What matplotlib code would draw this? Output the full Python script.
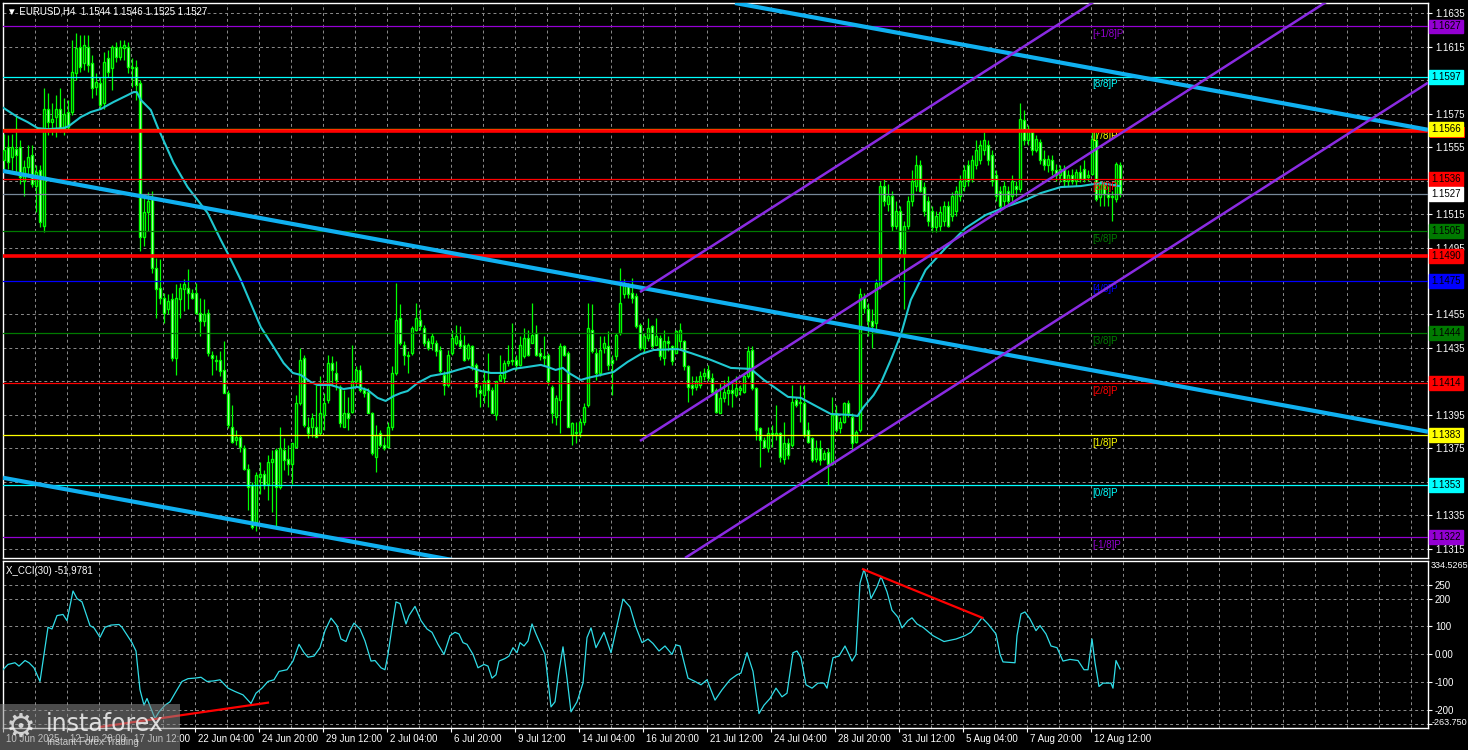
import numpy as np
import matplotlib.pyplot as plt
import matplotlib.transforms as mtransforms
from matplotlib.patches import Rectangle

plt.rcParams['font.family'] = ['Liberation Sans', 'DejaVu Sans']

# EURUSD H4 candles, in pips above 1.1300 (one value per bar, 280 bars)
opens = [
    247, 255, 249, 254, 255, 235, 243, 250, 232, 241,
    208, 278, 270, 273, 278, 266, 276, 276, 299, 315,
    305, 315, 305, 291, 293, 281, 308, 302, 315, 309,
    314, 315, 303, 303, 293, 201, 216, 225, 183, 171,
    165, 158, 164, 129, 164, 170, 171, 168, 168, 156,
    151, 156, 131, 128, 128, 122, 108, 88, 80, 82,
    75, 63, 53, 31, 58, 60, 54, 67, 74, 52,
    74, 69, 66, 76, 102, 129, 88, 88, 88, 84,
    95, 104, 126, 120, 112, 88, 96, 97, 115, 122,
    110, 109, 96, 70, 84, 77, 76, 88, 120, 153,
    137, 131, 132, 146, 152, 147, 139, 138, 138, 134,
    119, 113, 132, 138, 140, 137, 129, 136, 125, 110,
    107, 116, 110, 95, 116, 117, 126, 127, 128, 125,
    130, 141, 138, 144, 132, 130, 131, 112, 94, 104,
    136, 132, 83, 84, 85, 91, 101, 146, 132, 120,
    135, 136, 128, 130, 144, 167, 173, 168, 166, 149,
    135, 141, 148, 137, 141, 129, 139, 136, 132, 139,
    139, 124, 113, 112, 113, 118, 122, 117, 110, 96,
    105, 108, 110, 107, 110, 109, 118, 134, 111, 87,
    80, 75, 84, 83, 84, 69, 78, 77, 104, 102,
    102, 86, 81, 69, 75, 69, 73, 66, 96, 87,
    91, 102, 94, 79, 86, 165, 158, 151, 150, 172,
    232, 221, 226, 208, 217, 191, 208, 223, 232, 244,
    231, 223, 217, 207, 208, 211, 220, 214, 217, 226,
    232, 244, 236, 244, 247, 253, 256, 250, 238, 229,
    223, 229, 226, 232, 230, 271, 259, 264, 253, 258,
    248, 244, 247, 241, 238, 242, 235, 238, 235, 240,
    242, 237, 239, 259, 225, 233, 227, 225, 224, 244,
]
highs = [
    263, 262, 263, 274, 259, 247, 256, 256, 244, 244,
    290, 287, 281, 286, 290, 284, 283, 319, 323, 322,
    322, 322, 310, 299, 297, 312, 313, 316, 318, 319,
    319, 318, 308, 307, 295, 226, 228, 229, 189, 188,
    168, 167, 168, 173, 174, 176, 182, 170, 174, 165,
    164, 158, 133, 131, 133, 139, 110, 101, 86, 83,
    77, 66, 55, 61, 67, 62, 71, 74, 75, 88,
    81, 77, 78, 107, 135, 131, 94, 96, 113, 118,
    108, 131, 130, 127, 113, 110, 106, 137, 124, 125,
    112, 111, 97, 89, 86, 82, 91, 124, 174, 161,
    139, 133, 148, 162, 158, 149, 141, 144, 140, 136,
    121, 134, 146, 149, 148, 143, 138, 137, 126, 113,
    122, 132, 112, 115, 131, 128, 137, 150, 131, 142,
    147, 146, 162, 149, 135, 142, 132, 113, 107, 138,
    137, 133, 91, 91, 93, 102, 162, 161, 135, 142,
    142, 145, 131, 144, 183, 176, 174, 177, 168, 150,
    144, 153, 149, 153, 143, 146, 142, 137, 146, 150,
    140, 125, 118, 118, 121, 123, 125, 120, 111, 114,
    116, 118, 115, 118, 113, 120, 136, 136, 112, 88,
    82, 88, 89, 101, 85, 91, 81, 113, 106, 113,
    113, 91, 82, 80, 80, 74, 75, 106, 101, 94,
    103, 104, 96, 86, 171, 168, 162, 158, 176, 235,
    236, 233, 229, 223, 220, 211, 226, 241, 250, 247,
    234, 226, 220, 217, 220, 223, 223, 228, 232, 238,
    244, 247, 250, 259, 259, 264, 259, 253, 241, 232,
    235, 232, 238, 235, 281, 277, 268, 266, 262, 260,
    253, 250, 250, 245, 244, 244, 241, 242, 242, 244,
    247, 241, 264, 264, 235, 235, 232, 229, 246, 246,
]
lows = [
    241, 242, 241, 239, 233, 226, 237, 231, 216, 207,
    204, 262, 262, 261, 264, 262, 265, 274, 295, 300,
    301, 300, 284, 286, 278, 278, 297, 289, 306, 307,
    307, 299, 291, 283, 193, 196, 205, 180, 153, 161,
    150, 155, 127, 119, 153, 157, 158, 164, 155, 142,
    148, 130, 119, 122, 118, 108, 87, 78, 77, 73,
    62, 38, 27, 26, 48, 51, 44, 37, 28, 51,
    62, 59, 54, 75, 101, 88, 81, 82, 82, 83,
    86, 102, 113, 110, 88, 88, 86, 96, 112, 109,
    106, 96, 71, 61, 76, 74, 75, 86, 119, 137,
    125, 120, 131, 145, 146, 136, 134, 134, 130, 120,
    107, 112, 131, 137, 135, 127, 128, 122, 106, 100,
    102, 100, 96, 92, 115, 114, 124, 125, 122, 124,
    129, 130, 138, 130, 128, 124, 113, 90, 89, 84,
    130, 88, 77, 78, 82, 89, 100, 132, 116, 118,
    132, 122, 107, 128, 143, 165, 165, 162, 147, 134,
    132, 139, 135, 137, 128, 125, 133, 125, 132, 135,
    122, 103, 107, 110, 111, 116, 115, 107, 96, 96,
    103, 101, 100, 106, 107, 108, 117, 110, 80, 64,
    75, 73, 76, 80, 67, 66, 69, 76, 100, 91,
    82, 78, 67, 67, 65, 68, 53, 65, 85, 84,
    90, 94, 74, 78, 85, 156, 142, 135, 146, 170,
    220, 217, 205, 206, 189, 158, 206, 220, 229, 228,
    214, 208, 204, 204, 205, 208, 207, 211, 214, 223,
    229, 232, 234, 242, 245, 250, 244, 232, 223, 216,
    220, 220, 223, 226, 228, 256, 256, 250, 252, 245,
    241, 240, 238, 235, 234, 232, 232, 233, 232, 234,
    234, 235, 238, 223, 220, 220, 220, 211, 222, 225,
]
closes = [
    253, 246, 255, 250, 237, 243, 249, 233, 240, 210,
    278, 270, 272, 278, 266, 275, 267, 300, 314, 303,
    316, 304, 290, 294, 280, 306, 300, 315, 309, 315,
    316, 303, 302, 292, 201, 216, 223, 183, 170, 165,
    156, 163, 129, 165, 171, 173, 168, 165, 156, 151,
    155, 132, 129, 127, 121, 108, 89, 79, 82, 76,
    63, 52, 28, 59, 60, 53, 67, 69, 52, 75,
    68, 66, 78, 102, 128, 89, 84, 93, 82, 96,
    102, 126, 122, 116, 90, 96, 93, 115, 122, 110,
    108, 96, 72, 83, 77, 75, 88, 120, 152, 138,
    131, 130, 147, 153, 148, 138, 135, 142, 133, 121,
    113, 131, 141, 142, 136, 128, 137, 124, 112, 108,
    115, 110, 96, 115, 119, 126, 127, 128, 125, 137,
    141, 131, 143, 131, 130, 129, 115, 96, 105, 136,
    131, 88, 90, 85, 91, 100, 147, 133, 120, 134,
    138, 125, 126, 143, 162, 174, 167, 165, 148, 135,
    142, 147, 136, 142, 130, 139, 138, 127, 145, 146,
    124, 112, 111, 115, 118, 120, 117, 109, 97, 105,
    109, 110, 108, 111, 111, 118, 133, 111, 86, 80,
    76, 84, 83, 84, 70, 78, 71, 103, 101, 103,
    83, 79, 68, 75, 68, 72, 66, 95, 86, 91,
    102, 96, 78, 85, 167, 159, 151, 148, 174, 232,
    223, 226, 208, 217, 194, 208, 223, 235, 244, 229,
    217, 211, 207, 214, 216, 220, 208, 226, 229, 235,
    241, 235, 247, 253, 256, 259, 247, 235, 226, 220,
    232, 223, 235, 230, 272, 259, 266, 253, 260, 247,
    244, 248, 241, 238, 242, 235, 238, 235, 240, 236,
    236, 238, 260, 224, 233, 227, 225, 226, 245, 227,
]

# moving average on the price panel: (bar, pips above 1.1300)
ma_points = [
    (-0.1, 278.3), (3.4, 272.9), (5.9, 269.9), (8.4, 266.3), (10.9, 265.7),
    (14.9, 266.3), (16.2, 267.5), (19.2, 272.9), (21.7, 275.9), (24.2, 277.7),
    (27.4, 281.9), (30.9, 286.0), (32.4, 287.8), (33.2, 287.8), (34.2, 283.1),
    (36.7, 277.1), (38.4, 266.9), (42.4, 245.5), (45.9, 231.1), (50.9, 215.6),
    (54.2, 199.5), (55.9, 191.7), (59.2, 175.6), (64.2, 147.5), (67.4, 135.6),
    (69.9, 126.0), (72.2, 120.1), (74.2, 118.9), (76.7, 114.7), (78.4, 112.9),
    (81.7, 112.9), (84.9, 110.5), (88.4, 111.7), (90.9, 109.9), (93.4, 105.2),
    (95.4, 103.4), (97.4, 106.3), (99.2, 108.1), (100.9, 109.3), (103.4, 114.1),
    (106.7, 118.3), (110.9, 120.1), (113.4, 121.9), (116.2, 123.7), (119.2, 121.3),
    (121.7, 120.1), (124.9, 120.1), (127.4, 122.5), (130.9, 123.7), (134.2, 124.9),
    (135.9, 123.7), (137.9, 121.9), (139.7, 123.1), (141.2, 120.1), (144.2, 115.9),
    (145.9, 117.1), (149.2, 118.9), (152.4, 120.7), (155.9, 126.7), (159.2, 131.4),
    (162.4, 133.8), (168.4, 134.4), (171.7, 132.0), (176.7, 127.9), (181.7, 123.1),
    (186.7, 122.5), (190.0, 115.9), (196.0, 105.8), (199.2, 105.2), (203.4, 99.8),
    (206.7, 95.6), (211.7, 95.0), (213.4, 94.4), (214.9, 99.8), (217.4, 106.9),
    (219.2, 114.1), (221.7, 127.9), (224.2, 142.8), (226.7, 163.7), (230.4, 181.6),
    (235.4, 194.7), (240.4, 206.6), (245.4, 214.4), (250.4, 219.2), (255.4, 223.4),
    (259.2, 227.5), (264.2, 231.1), (269.2, 231.7), (274.2, 233.5), (278.9, 231.7),
]

# X_CCI(30) in the lower panel: (bar, value)
cci_points = [
    (-0.25, -55), (1, -36), (2.75, -30), (3.75, -42), (5.25, -22), (6.25, -30),
    (7.5, -48), (9, -97), (10, 0), (11, 97), (12, 91), (13.25, 139), (14.75, 143),
    (15.75, 121), (17.25, 227), (18.25, 200), (19.5, 188), (21.5, 103), (22.5, 95),
    (24, 61), (25.25, 97), (26.75, 105), (28.75, 107), (29.5, 97), (32, 42),
    (33, 12), (34, -127), (35, -182), (35.75, -158), (36.75, -194), (37.75, -230),
    (38.75, -206), (40.25, -182), (41.5, -170), (43, -133), (44.5, -97), (46, -87),
    (47.75, -85), (49.25, -82), (50.75, -97), (52.5, -95), (54, -91), (56, -121),
    (57.75, -133), (59.75, -145), (61.75, -176), (63, -139), (64.5, -121), (66, -97),
    (67.5, -91), (68.75, -61), (70.75, -55), (72.25, -24), (73.75, 36), (75, 6),
    (76, -10), (77.5, -6), (79, 24), (80.25, 85), (81.75, 130), (83.25, 103),
    (84.25, 55), (85.5, 46), (86.5, 85), (87.5, 112), (89, 91), (90.25, 48),
    (91.75, -24), (92.75, -22), (94.25, -48), (95.25, -55), (96, 0), (97, 97),
    (98, 188), (99, 182), (100.5, 109), (101.25, 139), (102.75, 172), (104.25, 121),
    (105.75, 91), (107, 79), (108.5, 36), (110, 0), (111.5, 67), (112.75, 79),
    (113.75, 73), (114.75, 42), (115.75, 36), (117.25, 0), (118.5, -48), (120, -36),
    (121, -42), (122, -85), (123, -73), (123.75, -24), (125.25, -15), (126.25, -6),
    (127.25, 24), (128.25, 6), (129, 42), (130, 30), (131, 48), (132, 109), (133, 73),
    (134.5, 24), (135.25, 0), (136.75, -188), (137.75, -170), (138.75, -61),
    (139.75, 27), (140.75, -85), (141.75, -206), (143.25, -170), (144.75, -103),
    (145.75, 60), (146.75, 95), (148, 24), (150, 79), (151.75, 6), (153.25, 103),
    (154.75, 198), (156.5, 170), (158, 97), (159.5, 42), (161, 55), (162.25, 39),
    (163.75, 12), (165.25, 30), (167, 0), (168, 34), (169, 30), (171, -85),
    (172.75, -97), (174.25, -109), (175.75, -91), (177.75, -164), (179.5, -127),
    (181.5, -91), (183.25, -73), (184.25, -67), (185.75, 6), (187.25, -61),
    (188.75, -212), (190, -182), (191.5, -158), (193, -121), (194.5, -152),
    (195.75, -139), (197.25, 6), (198.25, 12), (199.25, -12), (200.5, -109),
    (202, -121), (203.5, -103), (205, -103), (205.75, -121), (207.25, -12),
    (208.75, -6), (210.25, 30), (211.25, 0), (212, -24), (213, 0), (214, 255),
    (215, 305), (216, 255), (216.75, 200), (218.25, 242), (219.25, 279),
    (220.75, 224), (222, 158), (223.5, 133), (224.5, 95), (226, 121), (227, 131),
    (228.25, 109), (229.75, 97), (232.25, 67), (235, 46), (238, 55), (240.25, 67),
    (241.75, 79), (244.5, 131), (246, 109), (248, 73), (249, 0), (249.75, -27),
    (252.75, -30), (253.25, 67), (254.25, 145), (255.25, 152), (256.5, 127),
    (258, 85), (259, 103), (260.5, 73), (261.75, 30), (263.25, 24), (264.75, -24),
    (266.5, -18), (268.5, -22), (270, -55), (271, -55), (272, 55), (272.75, -30),
    (273.75, -115), (274.75, -103), (276.75, -103), (277.25, -121), (278, -22),
    (279, -52),
]

time_labels = ['10 Jun 2025', '12 Jun 20:00', '17 Jun 12:00', '22 Jun 04:00',
               '24 Jun 20:00', '29 Jun 12:00', '2 Jul 04:00', '6 Jul 20:00',
               '9 Jul 12:00', '14 Jul 04:00', '16 Jul 20:00', '21 Jul 12:00',
               '24 Jul 04:00', '28 Jul 20:00', '31 Jul 12:00', '5 Aug 04:00',
               '7 Aug 20:00', '12 Aug 12:00']

# Murrey math levels
murrey_levels = [1.1627, 1.1597, 1.1566, 1.1536, 1.1505, 1.1475,
                 1.1444, 1.1414, 1.1383, 1.1353, 1.1322]
murrey_names = ['[+1/8]P', '[8/8]P', '[7/8]P', '[6/8]P', '[5/8]P', '[4/8]P',
                '[3/8]P', '[2/8]P', '[1/8]P', '[0/8]P', '[-1/8]P']
murrey_colors = ['#9400D3', '#00FFFF', '#FFFF00', '#FF0000', '#007A00', '#0000FF',
                 '#007A00', '#FF0000', '#FFFF00', '#00FFFF', '#9400D3']

red_levels = [1.15646, 1.14899]
red_tags = ['', '1.1490']
bid_price = 1.1527

# right-axis price ticks; the ones sitting under a level tag stay blank
price_ticks = [1.1315, 1.1335, 1.1355, 1.1375, 1.1395, 1.1415, 1.1435, 1.1455, 1.1475,
               1.1495, 1.1515, 1.1535, 1.1555, 1.1575, 1.1595, 1.1615, 1.1635]
hidden_ticks = [1.1355, 1.1415, 1.1475, 1.1535, 1.1595]

# trend lines: (bar0, price0, bar1, price1)
blue_lines = [(182.75, 1.16410, 356, 1.15653),
              (-0.25, 1.15407, 356, 1.13850),
              (-0.25, 1.13575, 356, 1.12018)]
purple_lines = [(159, 1.14684, 356, 1.17694),
                (159, 1.13795, 356, 1.16805),
                (170.25, 1.13096, 356, 1.15934)]
cci_red_lines = [(24, -260, 66, -173), (214.75, 305, 244.6, 131)]

LIME = '#00FF00'
GRID = '#8c8c8c'
W, H = 1468, 750


def to_price(p):
    return 1.13 + np.asarray(p, dtype=float) / 10000


fig = plt.figure(figsize=(W / 100, H / 100), dpi=100, facecolor='black')
ax = fig.add_axes([3 / W, 1 - 558 / H, 1425 / W, 555 / H], facecolor='black')
ax2 = fig.add_axes([3 / W, 1 - 728 / H, 1425 / W, 167 / H], facecolor='black', sharex=ax)

for a in (ax, ax2):
    for s in a.spines.values():
        s.set_color('white')
        s.set_linewidth(1)
    a.set_axisbelow(True)
    a.yaxis.tick_right()
    a.tick_params(axis='y', colors='white', labelsize=7, length=3, pad=2)

xmin, xmax = -0.25, 356
ax.set_xlim(xmin, xmax)
ax.set_ylim(1.13096, 1.16410)
ax2.set_ylim(-263.75, 334.5265)

# x grid every 8 bars, labelled every 16
grid_x = np.arange(-0.25, xmax, 8)
label_x = [-0.25 + 16 * k for k in range(len(time_labels))]
ax2.set_xticks(label_x)
ax2.set_xticks(grid_x, minor=True)
ax2.set_xticklabels([])
ax2.tick_params(axis='x', which='major', colors='white', length=3)
ax2.tick_params(axis='x', which='minor', length=0)
ax.tick_params(axis='x', which='both', length=0, labelbottom=False)

ax.set_yticks(price_ticks)
ax.set_yticklabels(['' if t in hidden_ticks else f'{t:.4f}' for t in price_ticks])
ax2.set_yticks([250, 200, 100, 0, -100, -200, -250])
ax2.set_yticklabels(['250', '200', '100', '0.00', '-100', '-200', ''])

for a in (ax, ax2):
    a.xaxis.grid(True, which='both', color=GRID, ls=(0, (3, 3)), lw=0.7)
    a.yaxis.grid(True, which='major', color=GRID, ls=(0, (3, 3)), lw=0.7)

trans2 = mtransforms.blended_transform_factory(ax2.transData, ax2.transAxes)
for b, lab in zip(label_x, time_labels):
    ax2.text(b + 0.7, -0.035, lab, transform=trans2, ha='left', va='top',
             color='white', fontsize=7, clip_on=False)

# candles
o, h, l, c = map(to_price, (opens, highs, lows, closes))
h = np.maximum(h, np.maximum(o, c))
l = np.minimum(l, np.minimum(o, c))
x = np.arange(len(o))
ax.vlines(x, l, h, color=LIME, lw=0.9, zorder=3)
body_lo = np.minimum(o, c)
body_h = np.maximum(np.abs(c - o), 0.00004)
fills = ['black' if cc >= oo else 'white' for oo, cc in zip(o, c)]
ax.bar(x, body_h, bottom=body_lo, width=0.55, color=fills, edgecolor=LIME,
       linewidth=1.0, zorder=4)

# moving average
ma_b = [p[0] for p in ma_points]
ma_v = to_price([p[1] for p in ma_points])
ax.plot(ma_b, ma_v, color='#20C8D0', lw=1.5, zorder=5)

# horizontal levels
for lv, name, col in zip(murrey_levels, murrey_names, murrey_colors):
    ax.axhline(lv, color=col, lw=0.9, zorder=6)
    ax.annotate(name, xy=(272, lv), xytext=(0, -2), textcoords='offset points',
                ha='left', va='top', color=col, fontsize=7, zorder=6)
ax.axhline(bid_price, color='#778899', lw=0.9, zorder=6)
for lv in red_levels:
    ax.axhline(lv, color='#FF0000', lw=2.6, zorder=6)

# trend lines
for b0, p0, b1, p1 in blue_lines:
    ax.plot([b0, b1], [p0, p1], color='#10B0F0', lw=3, solid_capstyle='butt', zorder=7)
for b0, p0, b1, p1 in purple_lines:
    ax.plot([b0, b1], [p0, p1], color='#8A2BE2', lw=1.8, solid_capstyle='butt', zorder=7)


def price_tag(axis, value, text, fc, z):
    axis.annotate(text, xy=(1, value), xycoords=('axes fraction', 'data'),
                  xytext=(2.3, 0), textcoords='offset points', ha='left', va='center',
                  fontsize=7, color='black', annotation_clip=False, zorder=z,
                  bbox=dict(boxstyle='square,pad=0.2', fc=fc, ec=fc))


trans_tag = mtransforms.blended_transform_factory(ax.transAxes, ax.transData)
for lv, tag in zip(red_levels, red_tags):
    if tag:
        price_tag(ax, lv, tag, '#FF0000', 9)
    else:
        # red tag mostly hidden under the yellow 7/8 tag
        ax.add_patch(Rectangle((1.0012, lv - 0.00045), 0.0245, 0.0007, transform=trans_tag,
                               facecolor='#FF0000', edgecolor='none', clip_on=False, zorder=9))
for lv, col in zip(murrey_levels, murrey_colors):
    price_tag(ax, lv, f'{lv:.4f}', col, 10)
price_tag(ax, bid_price, f'{bid_price:.4f}', 'white', 10)

# CCI panel
cci_b = [p[0] for p in cci_points]
cci_v = [p[1] for p in cci_points]
ax2.plot(cci_b, cci_v, color='#30DDE8', lw=0.9, zorder=4)
for b0, v0, b1, v1 in cci_red_lines:
    ax2.plot([b0, b1], [v0, v1], color='#FF0000', lw=1.6, zorder=5)
ax2.text(1.002, 0.975, '334.5265', transform=ax2.transAxes, ha='left', va='center',
         color='white', fontsize=6.5, clip_on=False)
ax2.text(1.0025, 0.035, '-263.750', transform=ax2.transAxes, ha='left', va='center',
         color='white', fontsize=6.5, clip_on=False, zorder=10)

# headers
fig.text(7 / W, 1 - 11 / H, '\u25bc EURUSD,H4  1.1544 1.1546 1.1525 1.1527',
         color='white', fontsize=7, va='center', ha='left')
fig.text(6 / W, 1 - 571 / H, 'X_CCI(30) -51,9781', color='white', fontsize=7,
         va='center', ha='left')

# watermark
fig.patches.append(Rectangle((0, 0), 180 / W, 46 / H, transform=fig.transFigure,
                             facecolor='#8a8a8a', alpha=0.55, edgecolor='none', zorder=20))
fig.text(6 / W, 23 / H, '\u2699', color='white', alpha=0.75, fontsize=24,
         family='DejaVu Sans', va='center', ha='left', zorder=21)
fig.text(46 / W, 26 / H, 'instaforex', color='white', alpha=0.8, fontsize=17,
         family='DejaVu Sans', va='center', ha='left', zorder=21)
fig.text(47 / W, 8 / H, 'Instant Forex Trading', color='white', alpha=0.7, fontsize=7,
         va='center', ha='left', zorder=21)

fig.savefig('out.png', dpi=100, facecolor='black')
